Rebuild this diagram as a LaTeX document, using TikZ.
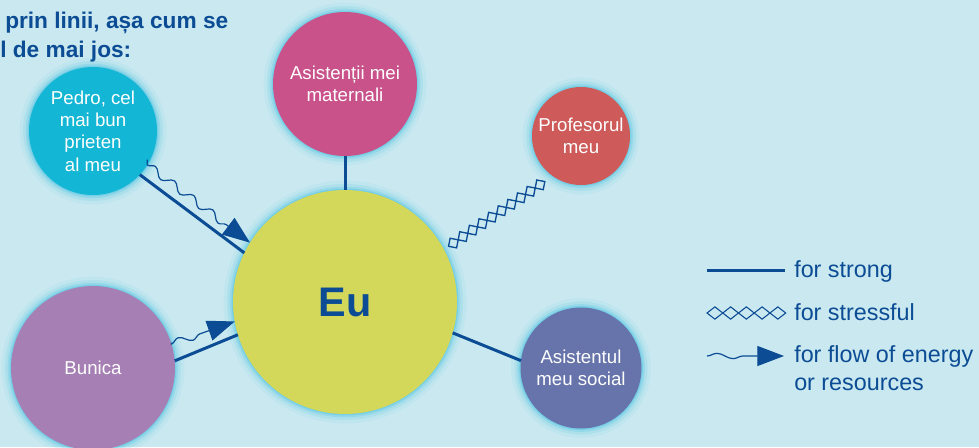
\documentclass[tikz,border=0pt]{standalone}
\usepackage{fontspec}
\setmainfont{Liberation Sans}
\usetikzlibrary{arrows.meta,decorations.pathmorphing,decorations.markings}
\definecolor{bgblue}{HTML}{C9E8F0}
\definecolor{ink}{HTML}{0B4C94}
\definecolor{glowc}{HTML}{3EC0E0}
\definecolor{eucol}{HTML}{D3D85A}
\definecolor{pedrocol}{HTML}{14B6D5}
\definecolor{matcol}{HTML}{C9528A}
\definecolor{profcol}{HTML}{CE5A5A}
\definecolor{bunicacol}{HTML}{A67FB4}
\definecolor{socialcol}{HTML}{6774AC}

\begin{document}
\begin{tikzpicture}[x=0.75pt,y=-0.75pt,
  bubble/.style={circle,inner sep=0pt,outer sep=0pt,text=white,align=center,
    font=\fontsize{14}{16.7}\selectfont,
    preaction={draw=glowc,draw opacity=.07,line width=14pt},
    preaction={draw=glowc,draw opacity=.13,line width=9pt},
    preaction={draw=glowc,draw opacity=.22,line width=5pt},
    preaction={draw=glowc,draw opacity=.35,line width=2pt}},
  strong/.style={ink,line width=2.25pt},
  flow/.style={ink,line width=.9pt,decorate,
    decoration={snake,amplitude=2.8pt,segment length=18pt,post length=20pt},
    -{Triangle[length=20.5pt,width=15.5pt]}},
  stressful/.style={decorate,decoration={markings,
    mark=between positions .087 and .97 step 8.7pt with
      {\draw[ink,line width=1pt] (-4.35pt,0)--(0,4.35pt)--(4.35pt,0)--(0,-4.35pt)--cycle;}}},
  legstress/.style={decorate,decoration={markings,
    mark=between positions .1 and .95 step 11.8pt with
      {\draw[ink,line width=.8pt] (-5.9pt,0)--(0,4.6pt)--(5.9pt,0)--(0,-4.6pt)--cycle;}}},
  legend/.style={ink,anchor=base west,inner sep=0pt,align=left,
    font=\fontsize{17.5}{20.3}\selectfont}]
\useasboundingbox (0,0) rectangle (979,447);
\fill[bgblue] (0,0) rectangle (979,447);

\node[ink,anchor=base west,inner sep=0pt,font=\fontsize{17}{20}\bfseries] (title1) at (5,28) {prin linii, așa cum se};
\node[ink,anchor=base west,inner sep=0pt,font=\fontsize{17}{20}\bfseries] (title2) at (0,57) {l de mai jos:};

\node[bubble,fill=eucol,minimum size=168pt,text=ink,font=\fontsize{31}{36}\bfseries] (eu) at (345,302) {Eu};
\node[bubble,fill=pedrocol,minimum size=96pt] (pedro) at (93,131) {Pedro, cel\\mai bun\\prieten\\al meu};
\node[bubble,fill=matcol,minimum size=108pt] (mat) at (345,84) {Asistenții mei\\maternali};
\node[bubble,fill=profcol,minimum size=73.5pt] (prof) at (581,136) {Profesorul\\meu};
\node[bubble,fill=bunicacol,minimum size=123pt] (bunica) at (93,368) {Bunica};
\node[bubble,fill=socialcol,minimum size=90.75pt] (social) at (581,368) {Asistentul\\meu social};

\draw[strong] (pedro.-43) -- (eu.154);
\draw[flow,shorten <=4pt] (pedro.-32) -- (eu.148);
\draw[strong] (mat.south) -- (eu.north);
\path[stressful] (eu.28) -- (prof.235);
\draw[strong] (bunica.5) -- (eu.197);
\draw[flow,shorten <=1pt,decoration={segment length=20pt}] (bunica.17) -- (eu.190);
\draw[strong] (eu.-16) -- (social.173);

\coordinate (strongA) at (707,270);
\coordinate (strongB) at (785,270);
\coordinate (stressA) at (707,313);
\coordinate (stressB) at (786,313);
\coordinate (flowA) at (707,356);
\coordinate (flowB) at (784,356);
\draw[strong] (strongA) -- (strongB);
\path[legstress] (stressA) -- (stressB);
\draw[flow,decoration={segment length=24pt,amplitude=2pt,post length=20pt},-{Triangle[length=20pt,width=15pt]}] (flowA) -- (flowB);
\node[legend] (strongtxt) at (794,277) {for strong};
\node[legend] (stresstxt) at (794,320) {for stressful};
\node[legend] (flowtxt) at (794,390) {for flow of energy\\or resources};
\end{tikzpicture}
\end{document}
